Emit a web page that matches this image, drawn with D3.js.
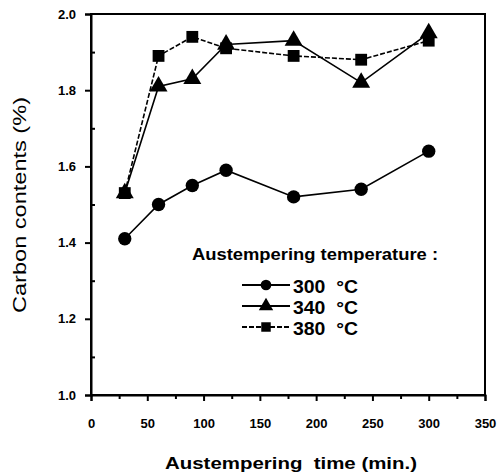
<!DOCTYPE html>
<html>
<head>
<meta charset="utf-8">
<script src="https://cdn.jsdelivr.net/npm/d3@7"></script>
<style>
  body { margin: 0; background: #fff; }
  text { font-family: "Liberation Sans", Arial, sans-serif; fill: #000; }
</style>
</head>
<body>
<div id="chart"></div>
<script>
// data
var times = [30, 60, 90, 120, 180, 240, 300];
var c300 = [1.41, 1.50, 1.55, 1.59, 1.52, 1.54, 1.64];
var c340 = [1.53, 1.81, 1.83, 1.92, 1.93, 1.82, 1.95];
var c380 = [1.53, 1.89, 1.94, 1.91, 1.89, 1.88, 1.93];
var seriesNames = ["300  \u00B0C", "340  \u00B0C", "380  \u00B0C"];
var xTicks = [0, 50, 100, 150, 200, 250, 300, 350];
var yTicks = [1.0, 1.2, 1.4, 1.6, 1.8, 2.0];

var W = 498, H = 475;
var pLeft = 91, pRight = 485, pTop = 14, pBottom = 395;

var svg = d3.select("#chart").append("svg")
  .attr("width", W).attr("height", H);

var x = d3.scaleLinear().domain([0, 350]).range([pLeft, pRight]);
var y = d3.scaleLinear().domain([1.0, 2.0]).range([pBottom, pTop]);

// frame
svg.append("rect")
  .attr("x", pLeft).attr("y", pTop)
  .attr("width", pRight - pLeft).attr("height", pBottom - pTop)
  .attr("fill", "none").attr("stroke", "#000").attr("stroke-width", 2);

// x axis
var xAxis = svg.append("g").attr("transform", "translate(0," + pBottom + ")")
  .call(d3.axisBottom(x).tickValues(xTicks).tickSize(6).tickFormat(d3.format("d")));
svg.append("g").attr("transform", "translate(0," + pBottom + ")")
  .call(d3.axisBottom(x).tickValues(d3.range(25, 350, 50)).tickSize(4).tickFormat(""))
  .select(".domain").remove();

// y axis
var yAxis = svg.append("g").attr("transform", "translate(" + pLeft + ",0)")
  .call(d3.axisLeft(y).tickValues(yTicks).tickSize(6).tickFormat(d3.format(".1f")));
svg.append("g").attr("transform", "translate(" + pLeft + ",0)")
  .call(d3.axisLeft(y).tickValues([1.1, 1.3, 1.5, 1.7, 1.9]).tickSize(-4).tickFormat(""))
  .select(".domain").remove();

svg.selectAll(".domain").attr("stroke-width", 2);
svg.selectAll(".tick line").attr("stroke-width", 2);
xAxis.selectAll("text")
  .attr("y", 24)
  .style("font-size", "13px").style("font-weight", "bold");
yAxis.selectAll("text")
  .attr("x", -15)
  .style("font-size", "13px").style("font-weight", "bold");

// axis titles
svg.append("text")
  .attr("x", 165).attr("y", 469)
  .attr("textLength", 252).attr("lengthAdjust", "spacingAndGlyphs")
  .style("font-size", "17px").style("font-weight", "bold")
  .attr("xml:space", "preserve")
  .text("Austempering  time (min.)");

svg.append("text")
  .attr("transform", "translate(26,313) rotate(-90)")
  .attr("textLength", 216).attr("lengthAdjust", "spacingAndGlyphs")
  .style("font-size", "19px")
  .text("Carbon contents (%)");

// series
var series = [
  { name: seriesNames[0], vals: c300, shape: d3.symbolCircle, dash: null },
  { name: seriesNames[1], vals: c340, shape: d3.symbolTriangle, dash: null },
  { name: seriesNames[2], vals: c380, shape: d3.symbolSquare, dash: "5,2" }
];

var line = d3.line()
  .x(function(d) { return x(d.t); })
  .y(function(d) { return y(d.v); });

series.forEach(function(s) {
  var pts = times.map(function(t, i) { return { t: t, v: s.vals[i] }; });
  svg.append("path")
    .datum(pts)
    .attr("d", line)
    .attr("fill", "none")
    .attr("stroke", "#000")
    .attr("stroke-width", 1.6)
    .attr("stroke-dasharray", s.dash);
  svg.selectAll(null)
    .data(pts)
    .enter()
    .append("path")
    .attr("d", d3.symbol().type(s.shape).size(140))
    .attr("transform", function(d) { return "translate(" + x(d.t) + "," + y(d.v) + ")"; })
    .attr("fill", "#000");
});

// legend
svg.append("text")
  .attr("x", 192).attr("y", 260)
  .attr("textLength", 246).attr("lengthAdjust", "spacingAndGlyphs")
  .style("font-size", "16px").style("font-weight", "bold")
  .text("Austempering temperature :");

var legendY = [285, 306, 327];
series.forEach(function(s, i) {
  var g = svg.append("g").attr("transform", "translate(0," + legendY[i] + ")");
  g.append("line")
    .attr("x1", 242).attr("x2", 290).attr("y1", 0).attr("y2", 0)
    .attr("stroke", "#000").attr("stroke-width", 1.8)
    .attr("stroke-dasharray", s.dash);
  g.append("path")
    .attr("d", d3.symbol().type(s.shape).size(90))
    .attr("transform", "translate(266,0)")
    .attr("fill", "#000");
  g.append("text")
    .attr("x", 293).attr("y", 8)
    .attr("textLength", 65).attr("lengthAdjust", "spacingAndGlyphs")
    .style("font-size", "18px").style("font-weight", "bold")
    .attr("xml:space", "preserve")
    .text(s.name);
});
</script>
</body>
</html>
